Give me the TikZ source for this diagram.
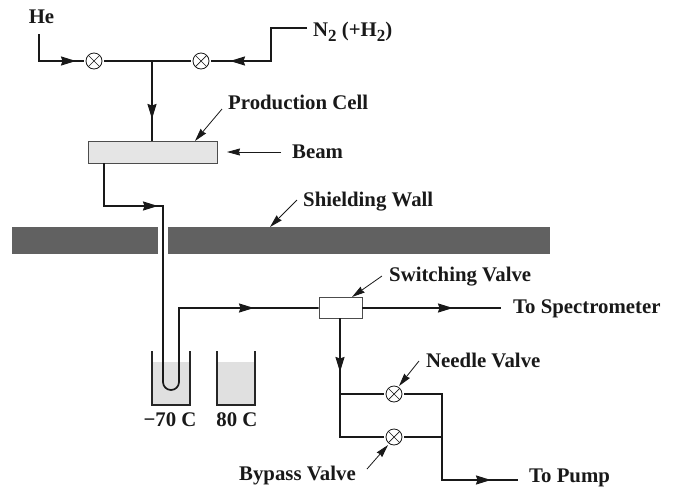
\documentclass[tikz,border=0pt]{standalone}
\usepackage{fontspec}
\setmainfont{Liberation Serif}
\usetikzlibrary{arrows.meta}
\newcommand{\subtwo}{\raisebox{-5pt}{\fontsize{17pt}{17pt}\selectfont 2}}
\tikzset{
  pipe/.style={line width=1.7pt,color=black!90},
  flow/.style={line width=1.7pt,color=black!90,-{Stealth[length=15pt,width=9pt,inset=1.5pt]}},
  pointer/.style={line width=0.8pt,color=black!90,-{Stealth[length=13pt,width=7pt,inset=1pt]}},
  lbl/.style={font=\fontsize{20.8pt}{22pt}\selectfont\bfseries,inner sep=0pt,anchor=base west,text=black!90},
  ctr/.style={lbl,anchor=base},
  valve/.style={circle,draw=black!90,line width=0.8pt,fill=white,minimum size=16pt,inner sep=0pt,outer sep=2pt,path picture={
    \draw[line width=0.7pt,black!90] (path picture bounding box.south west)--(path picture bounding box.north east)
      (path picture bounding box.north west)--(path picture bounding box.south east);}},
  boxy/.style={draw=black!70,line width=0.9pt,inner sep=0pt},
  wall/.style={fill=black!62,draw=none,inner sep=0pt},
  beaker/.style={line width=1.1pt,color=black!85},
  liquid/.style={fill=black!12,draw=none,inner sep=0pt}
}
\begin{document}
\begin{tikzpicture}[x=1pt,y=-1pt]
\useasboundingbox (0,0) rectangle (678,488);
% walls
\node[wall,minimum width=146pt,minimum height=27pt] (wallL) at (85,240.5) {};
\node[wall,minimum width=382pt,minimum height=27pt] (wallR) at (359,240.5) {};
% beakers
\node[liquid,minimum width=38pt,minimum height=43pt] (liq1) at (171,383.5) {};
\node[liquid,minimum width=38pt,minimum height=43pt] (liq2) at (236,383.5) {};
\coordinate (b1a) at (152,351); \coordinate (b1b) at (152,405); \coordinate (b1c) at (190,405); \coordinate (b1d) at (190,351);
\coordinate (b2a) at (217,351); \coordinate (b2b) at (217,405); \coordinate (b2c) at (255,405); \coordinate (b2d) at (255,351);
\draw[beaker] (b1a)--(b1b)--(b1c)--(b1d);
\draw[beaker] (b2a)--(b2b)--(b2c)--(b2d);
% components
\node[boxy,fill=black!10,minimum width=129pt,minimum height=22pt] (cell) at (152.5,152) {};
\node[boxy,fill=white,minimum width=43pt,minimum height=21pt] (switch) at (340.5,307.5) {};
\node[valve] (v1) at (94,61) {};
\node[valve] (v2) at (201,61) {};
\node[valve] (needle) at (394,394) {};
\node[valve] (bypass) at (394,437) {};
% labels
\node[ctr] (he) at (41.5,23) {He};
\node[lbl] (n2) at (313,36) {N\subtwo{} (+H\subtwo)};
\node[lbl] (prod) at (228,109) {Production Cell};
\node[lbl] (beam) at (292,158) {Beam};
\node[lbl] (shield) at (303,206) {Shielding Wall};
\node[lbl] (swl) at (389,281) {Switching Valve};
\node[lbl] (spec) at (513,313) {To Spectrometer};
\node[lbl] (nvl) at (426,367) {Needle Valve};
\node[lbl] (bvl) at (239,480) {Bypass Valve};
\node[lbl] (pump) at (529,482.5) {To Pump};
\node[ctr] (t70) at (170,426) {−70 C};
\node[ctr] (t80) at (237,426) {80 C};
% He line
\coordinate (hs) at (39,34); \coordinate (hc) at (39,61); \coordinate (hb) at (60,61); \coordinate (ht) at (76,61);
\draw[pipe] (hs)--(hc)--(v1);
\draw[flow] (hb)--(ht);
% valve link
\coordinate (j) at (152,61);
\draw[pipe] (v1)--(v2);
\coordinate (jb) at (152,103); \coordinate (jt) at (152,119);
\draw[pipe] (j)--(cell.north -| j);
\draw[flow] (jb)--(jt);
% N2 line
\coordinate (ns) at (307,28); \coordinate (nc1) at (271,28); \coordinate (nc2) at (271,61); \coordinate (nb) at (246,61); \coordinate (nt) at (230,61);
\draw[pipe] (ns)--(nc1)--(nc2)--(v2);
\draw[flow] (nb)--(nt);
% cell to trap
\coordinate (c0) at (104,163); \coordinate (c1) at (104,206); \coordinate (c2) at (142,206); \coordinate (c2t) at (158,206); \coordinate (c3) at (163,206);
\coordinate (u1) at (163,382); \coordinate (u3) at (179,308); \coordinate (ub) at (238,308); \coordinate (ut) at (254,308);
\draw[pipe] (c0)--(c1)--(c3)--(u1) arc[start angle=180,end angle=0,radius=8] -- (u3) -- (switch.west |- u3);
\draw[flow] (c2)--(c2t);
\draw[flow] (ub)--(ut);
% to spectrometer
\coordinate (sb) at (437,308); \coordinate (st) at (453,308); \coordinate (se) at (501,308);
\draw[pipe] (switch.east |- st)--(se);
\draw[flow] (sb)--(st);
% to pump branch
\coordinate (d0) at (340,318); \coordinate (db) at (340,356); \coordinate (dt) at (340,372); \coordinate (d1) at (340,394); \coordinate (d2) at (340,437);
\draw[pipe] (d0)--(d2)--(bypass);
\draw[pipe] (d1)--(needle);
\draw[flow] (db)--(dt);
\coordinate (r1) at (442,394); \coordinate (r2) at (442,437); \coordinate (r3) at (442,480); \coordinate (rb) at (475,480); \coordinate (rt) at (491,480); \coordinate (re) at (518,480);
\draw[pipe] (needle)--(r1)--(r3)--(re);
\draw[pipe] (bypass)--(r2);
\draw[flow] (rb)--(rt);
% pointers
\coordinate (p1a) at (222,109); \coordinate (p1b) at (195,141);
\draw[pointer] (p1a)--(p1b);
\coordinate (p2a) at (281,152); \coordinate (p2b) at (227,152);
\draw[pointer] (p2a)--(p2b);
\coordinate (p3a) at (297,200); \coordinate (p3b) at (270,227);
\draw[pointer] (p3a)--(p3b);
\coordinate (p4a) at (382,276); \coordinate (p4b) at (352,297);
\draw[pointer] (p4a)--(p4b);
\coordinate (p5a) at (419,361); \coordinate (p5b) at (399,386);
\draw[pointer] (p5a)--(p5b);
\coordinate (p6a) at (367,469); \coordinate (p6b) at (388,445);
\draw[pointer] (p6a)--(p6b);
\end{tikzpicture}
\end{document}
